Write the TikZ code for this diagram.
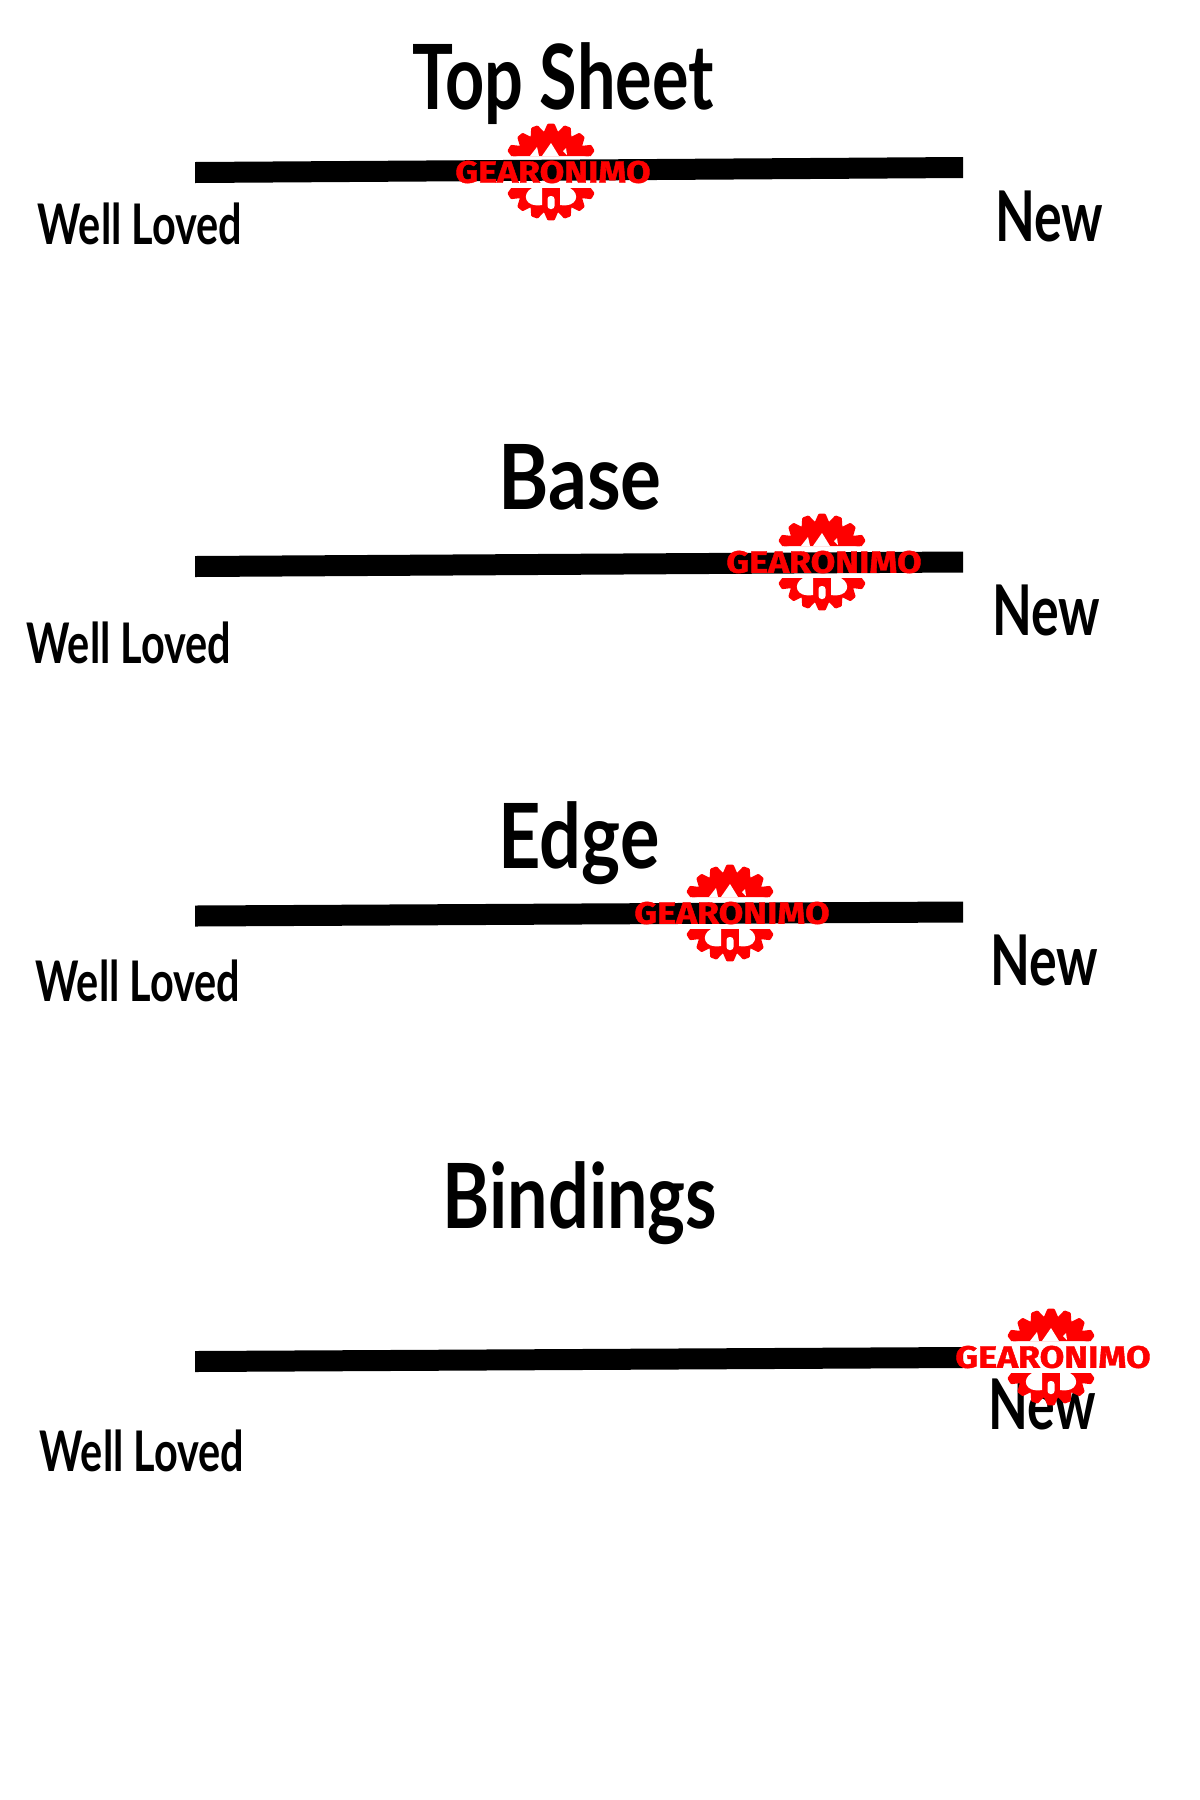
\documentclass[tikz,border=0pt]{standalone}
\usepackage{fontspec}
\setmainfont{Lato}
\newfontfamily\logofont[BoldFeatures={FakeBold=1.2}]{Fira Sans}
\definecolor{logored}{RGB}{254,0,0}
\tikzset{
  scalebar/.style={fill=black},
  title/.style={font=\bfseries\fontsize{90}{92}\selectfont, xscale=.76, transform shape, anchor=base, inner sep=0pt},
  lowend/.style={font=\bfseries\fontsize{56}{58}\selectfont, xscale=.74, transform shape, anchor=base, inner sep=0pt},
  highend/.style={font=\bfseries\fontsize{70}{72}\selectfont, xscale=.74, transform shape, anchor=base, inner sep=0pt},
  logotext/.style={font=\logofont\bfseries\fontsize{31}{31}\selectfont, text=logored, xscale=1.15, transform shape, inner sep=0pt},
  pics/gearlogo/.style={code={
    \begin{scope}[y=1pt]
    % Gear, cut across the middle
    \begin{scope}
      \clip (-60,16) rectangle (60,60) (-60,-16) rectangle (60,-60);
      \fill[logored] (0,0) circle (41);
      \foreach \a in {10,30,...,350}
        \draw[logored, fill=logored, line width=3, line join=round]
          (\a-9:39) -- (\a-3:47) -- (\a+3:47) -- (\a+9:39) -- cycle;
    \end{scope}
    % Mountains
    \fill[white] (-21,16) -- (-14,25) -- (-12,16) -- cycle;
    \fill[white] (-9,16) -- (0,29) -- (8,16) -- cycle;
    \fill[white] (12,21) -- (15,24) -- (16,17) -- cycle;
    % Crank cut-outs
    \fill[white] (-19,-16) .. controls (-30,-22) and (-26,-36) .. (-9,-33) -- (-9,-16) -- cycle;
    \fill[white] (19,-16) .. controls (30,-22) and (26,-36) .. (9,-33) -- (9,-16) -- cycle;
    \fill[white, rounded corners=3] (-3.5,-24) rectangle (3.5,-37);
    \node[logotext] (-name) at (2,0) {GEARONIMO};
    \end{scope}
  }}
}
\begin{document}
\begin{tikzpicture}[x=1pt, y=-1pt]
  \useasboundingbox (0,0) rectangle (1200,1800);

  % Top Sheet
  \node[title] (topsheet) at (563,109) {Top Sheet};
  \fill[scalebar] (195,162) -- (963,157) -- (963,178) -- (195,183) -- cycle;
  \node[lowend] (loved1) at (140,244) {Well Loved};
  \node[highend] (new1) at (1049,241) {New};
  \pic (logo1) at (551,172) {gearlogo};

  % Base
  \node[title, xscale=1.12] (base) at (580,509) {Base};
  \fill[scalebar] (195,556) -- (963,551.5) -- (963,572.5) -- (195,577) -- cycle;
  \node[lowend] (loved2) at (129,663) {Well Loved};
  \node[highend] (new2) at (1046,635) {New};
  \pic (logo2) at (822,562) {gearlogo};

  % Edge
  \node[title, xscale=1.08] (edge) at (579,868) {Edge};
  \fill[scalebar] (195,905.5) -- (963,901.5) -- (963,922.5) -- (195,926.5) -- cycle;
  \node[lowend] (loved3) at (138,1001) {Well Loved};
  \node[highend] (new3) at (1044,985) {New};
  \pic (logo3) at (730,913) {gearlogo};

  % Bindings
  \node[title, xscale=1.05] (bindings) at (580,1228) {Bindings};
  \fill[scalebar] (195,1351) -- (963,1347) -- (963,1368) -- (195,1372) -- cycle;
  \node[lowend] (loved4) at (142,1471) {Well Loved};
  \node[highend] (new4) at (1042,1429) {New};
  \pic (logo4) at (1051,1357) {gearlogo};
\end{tikzpicture}
\end{document}
